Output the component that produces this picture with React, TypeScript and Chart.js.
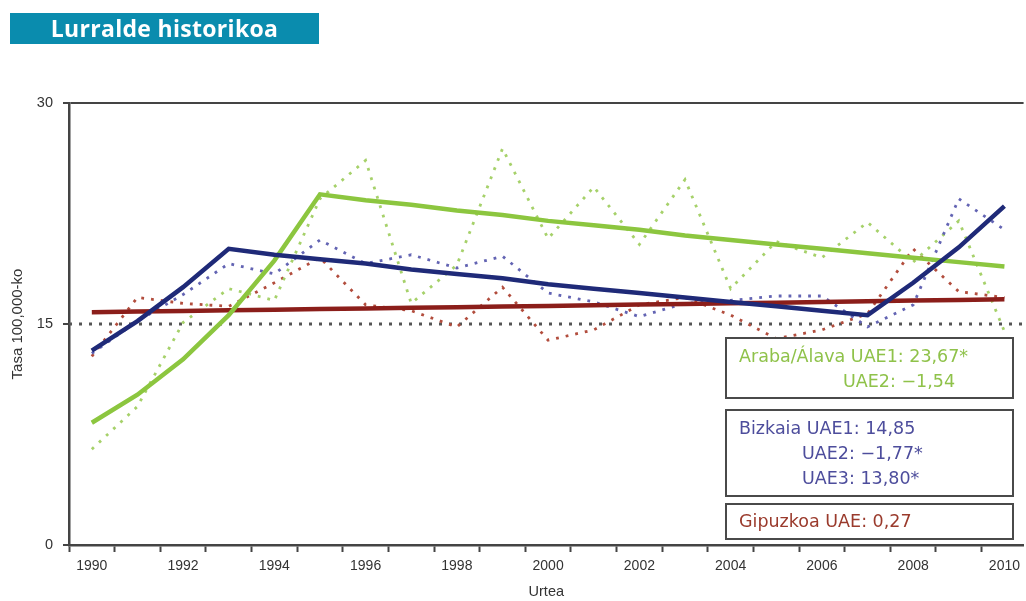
import React, { useEffect, useRef } from 'react';
import { Chart, registerables } from 'chart.js';

Chart.register(...registerables);

// ---- data ----
const years = [1990, 1991, 1992, 1993, 1994, 1995, 1996, 1997, 1998, 1999, 2000, 2001, 2002, 2003, 2004, 2005, 2006, 2007, 2008, 2009, 2010];
const yearTickLabels = ['1990', '1992', '1994', '1996', '1998', '2000', '2002', '2004', '2006', '2008', '2010'];
const yTickValues = [0, 15, 30];

const arabaObserved = [6.5, 9.4, 15.1, 17.4, 16.6, 23.5, 26.1, 16.4, 19.0, 26.9, 20.8, 24.3, 20.4, 24.8, 17.4, 20.6, 19.5, 21.9, 19.2, 22.0, 14.5];
const arabaTrend = [8.3, 10.2, 12.6, 15.6, 19.3, 23.8, 23.4, 23.1, 22.7, 22.4, 22.0, 21.7, 21.4, 21.0, 20.7, 20.4, 20.1, 19.8, 19.5, 19.2, 18.9];

const bizkaiaObserved = [13.0, 15.2, 17.0, 19.1, 18.4, 20.7, 19.1, 19.7, 18.8, 19.6, 17.1, 16.5, 15.5, 16.4, 16.6, 16.9, 16.9, 14.8, 16.3, 23.5, 21.4];
const bizkaiaTrend = [13.2, 15.2, 17.5, 20.1, 19.7, 19.4, 19.1, 18.7, 18.4, 18.1, 17.7, 17.4, 17.1, 16.8, 16.5, 16.2, 15.9, 15.6, 17.8, 20.2, 23.0];

const gipuzkoaObserved = [12.8, 16.8, 16.4, 16.2, 17.8, 19.5, 16.3, 15.9, 14.8, 17.5, 13.9, 14.6, 16.3, 16.8, 15.6, 14.0, 14.6, 15.7, 20.1, 17.2, 16.8];
const gipuzkoaTrend = [15.80, 15.84, 15.88, 15.93, 15.97, 16.01, 16.06, 16.10, 16.14, 16.19, 16.23, 16.28, 16.32, 16.36, 16.41, 16.45, 16.50, 16.54, 16.59, 16.63, 16.68];

const referenceRate = 15;
const xMin = 1989.5;
const xMax = 2010.42;

const titleText = 'Lurralde historikoa';
const yTitle = 'Tasa 100,000-ko';
const xTitle = 'Urtea';

const arabaLines = ['Araba/Álava UAE1: 23,67*', 'UAE2: −1,54'];
const bizkaiaLines = ['Bizkaia UAE1: 14,85', 'UAE2: −1,77*', 'UAE3: 13,80*'];
const gipuzkoaLines = ['Gipuzkoa UAE: 0,27'];

// ---- styles ----
const GREEN = '#8cc63f';
const GREEN_DOT = '#a6d16a';
const BLUE = '#1f2a78';
const BLUE_DOT = '#6364b3';
const RED = '#8b1e1a';
const RED_DOT = '#b24d3d';
const AXIS = '#444444';
const TEXT = '#333333';

const pts = (vals: number[]) => years.map((y, i) => ({ x: y, y: vals[i] }));

export default function App() {
  const ref = useRef<HTMLCanvasElement | null>(null);

  useEffect(() => {
    if (!ref.current) return;
    const tickVals: number[] = [];
    years.forEach((y) => {
      tickVals.push(y - 0.5);
      tickVals.push(y);
    });

    const solid = (label: string, data: number[], color: string, order: number) => ({
      label,
      data: pts(data),
      borderColor: color,
      backgroundColor: color,
      borderWidth: 4.5,
      pointRadius: 0,
      tension: 0,
      order,
    });
    const dotted = (label: string, data: number[], color: string, order: number) => ({
      label,
      data: pts(data),
      borderColor: color,
      backgroundColor: color,
      borderWidth: 2.8,
      borderDash: [2.8, 7],
      pointRadius: 0,
      tension: 0,
      order,
    });

    const chart = new Chart(ref.current, {
      type: 'line',
      data: {
        datasets: [
          solid('Bizkaia UAE', bizkaiaTrend, BLUE, 1),
          solid('Araba/Álava UAE', arabaTrend, GREEN, 2),
          solid('Gipuzkoa UAE', gipuzkoaTrend, RED, 3),
          dotted('Bizkaia', bizkaiaObserved, BLUE_DOT, 4),
          dotted('Araba/Álava', arabaObserved, GREEN_DOT, 5),
          dotted('Gipuzkoa', gipuzkoaObserved, RED_DOT, 6),
          {
            label: 'ref',
            data: [
              { x: xMin, y: referenceRate },
              { x: xMax, y: referenceRate },
            ],
            borderColor: '#555555',
            borderWidth: 2.8,
            borderDash: [3, 7],
            pointRadius: 0,
            order: 7,
          },
        ],
      },
      options: {
        animation: false,
        responsive: true,
        maintainAspectRatio: false,
        layout: { padding: { top: 103, right: 0, left: 0, bottom: 0 } },
        plugins: { legend: { display: false }, tooltip: { enabled: false }, title: { display: false } },
        scales: {
          x: {
            type: 'linear',
            min: xMin,
            max: xMax,
            afterBuildTicks: (scale: any) => {
              scale.ticks = tickVals.map((v) => ({ value: v }));
            },
            afterFit: (scale: any) => {
              scale.height = 56;
            },
            ticks: {
              autoSkip: false,
              maxRotation: 0,
              padding: 6,
              color: TEXT,
              font: { family: 'Liberation Sans, Arial, sans-serif', size: 14 },
              callback: (v: any) => (yearTickLabels.includes(String(v)) ? String(v) : ''),
            },
            grid: {
              drawOnChartArea: false,
              drawTicks: true,
              tickLength: 7,
              tickWidth: 2,
              tickColor: (ctx: any) => (ctx.tick && Number.isInteger(ctx.tick.value) ? 'rgba(0,0,0,0)' : AXIS),
            },
            border: { display: true, color: AXIS, width: 2.5 },
            title: {
              display: true,
              text: xTitle,
              color: TEXT,
              font: { family: 'Liberation Sans, Arial, sans-serif', size: 14.5 },
              padding: { top: 0, bottom: 0 },
            },
          },
          y: {
            type: 'linear',
            min: 0,
            max: 30,
            afterBuildTicks: (scale: any) => {
              scale.ticks = yTickValues.map((v) => ({ value: v }));
            },
            afterFit: (scale: any) => {
              scale.width = 69;
            },
            ticks: {
              padding: 10,
              color: TEXT,
              font: { family: 'Liberation Sans, Arial, sans-serif', size: 14.5 },
              callback: (v: any) => String(v),
            },
            grid: {
              drawOnChartArea: true,
              lineWidth: 2,
              color: (ctx: any) => (ctx.tick && ctx.tick.value === 30 ? AXIS : 'rgba(0,0,0,0)'),
              tickColor: AXIS,
              tickLength: 6,
              tickWidth: 2,
            },
            border: { display: true, color: AXIS, width: 2.5 },
            title: {
              display: true,
              text: yTitle,
              color: TEXT,
              font: { family: 'Liberation Sans, Arial, sans-serif', size: 15 },
              padding: { top: 9, bottom: 0 },
            },
          },
        },
      },
    } as any);
    return () => chart.destroy();
  }, []);

  const legendFont: React.CSSProperties = {
    position: 'absolute',
    fontFamily: '"DejaVu Sans", sans-serif',
    fontSize: 17.5,
    lineHeight: 1,
    whiteSpace: 'nowrap',
  };
  const box = (top: number, height: number): React.CSSProperties => ({
    position: 'absolute',
    left: 725,
    top,
    width: 289,
    height,
    boxSizing: 'border-box',
    border: '2px solid #4a4a4a',
    background: '#ffffff',
  });

  return (
    <div style={{ position: 'fixed', left: 0, top: 0, width: 1026, height: 601, background: '#fff', overflow: 'hidden' }}>
      <canvas ref={ref} style={{ position: 'absolute', left: 0, top: 0 }} />
      <div
        style={{
          position: 'absolute',
          left: 10,
          top: 13,
          width: 309,
          height: 31,
          background: '#0a8cae',
          color: '#ffffff',
          fontFamily: '"Open Sans", sans-serif',
          fontWeight: 700,
          fontSize: 23,
          letterSpacing: 0.3,
          lineHeight: '31px',
          textAlign: 'center',
          whiteSpace: 'nowrap',
        }}
      >
        {titleText}
      </div>
      <div style={box(337, 62)} />
      <div style={box(409, 88)} />
      <div style={box(503, 37)} />
      <div style={{ ...legendFont, left: 739, top: 348, color: '#8fc24a' }}>{arabaLines[0]}</div>
      <div style={{ ...legendFont, left: 843, top: 373, color: '#8fc24a' }}>{arabaLines[1]}</div>
      <div style={{ ...legendFont, left: 739, top: 420, color: '#4d4d9c' }}>{bizkaiaLines[0]}</div>
      <div style={{ ...legendFont, left: 802, top: 445, color: '#4d4d9c' }}>{bizkaiaLines[1]}</div>
      <div style={{ ...legendFont, left: 802, top: 470, color: '#4d4d9c' }}>{bizkaiaLines[2]}</div>
      <div style={{ ...legendFont, left: 739, top: 513, color: '#9a3a2c' }}>{gipuzkoaLines[0]}</div>
    </div>
  );
}
